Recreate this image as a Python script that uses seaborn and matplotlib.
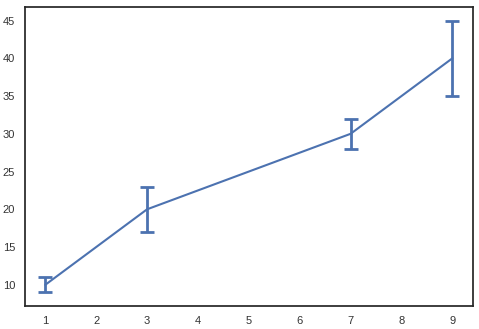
import matplotlib
matplotlib.use("Agg")
import matplotlib.pyplot as plt
import seaborn as sns
import numpy as np

x_vals = [1, 3, 7, 9]
y_vals = [10, 20, 30, 40]
y_err = [1, 3, 2, 5]

sns.set_theme(style="white")
plt.rcParams['font.family'] = ['Liberation Sans', 'DejaVu Sans']

fig = plt.figure(figsize=(4.79, 3.29), dpi=100)
ax = fig.add_axes([0.052, 0.07, 0.935, 0.909])
color = sns.color_palette("deep")[0]
ax.errorbar(x_vals, y_vals, yerr=y_err, color=color, linewidth=1.5,
            elinewidth=2, capsize=5, capthick=2)
for s in ax.spines.values():
    s.set_color("#262626")
    s.set_linewidth(1.25)
ax.tick_params(labelsize=8, colors="#333333", length=0, pad=7)
ax.set_yticks([10, 15, 20, 25, 30, 35, 40, 45])
ax.set_xticks(range(1, 10))
fig.savefig("out.png", dpi=100)
